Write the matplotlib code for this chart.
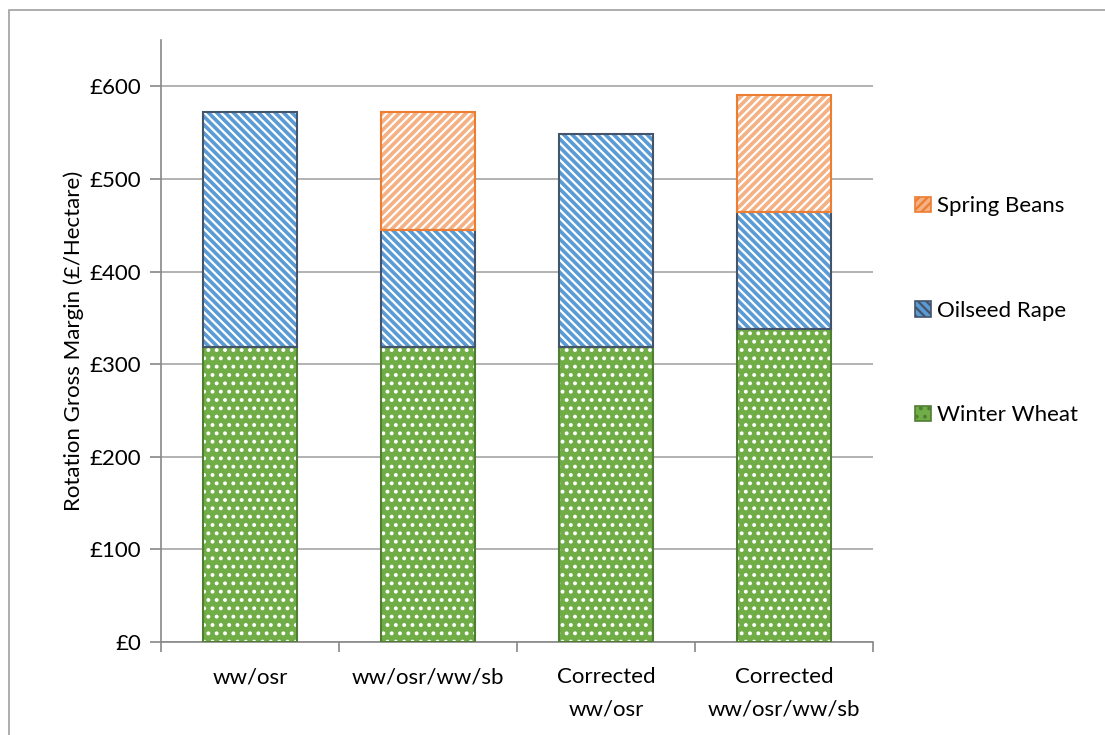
import numpy as np
import matplotlib.pyplot as plt
from matplotlib.patches import Rectangle, Patch
from matplotlib.ticker import FuncFormatter

plt.rcParams['font.family'] = ['Lato', 'DejaVu Sans']

categories = ['ww/osr', 'ww/osr/ww/sb', 'Corrected\nww/osr', 'Corrected\nww/osr/ww/sb']
winter_wheat = [319, 319, 319, 338]
oilseed_rape = [253, 126, 229, 126]
spring_beans = [0, 127, 0, 127]

# (face, hatch colour, hatch, outline)
styles = {
    'Winter Wheat': ('#70AD47', 'white', '..', '#507E32'),
    'Oilseed Rape': ('#5B9BD5', 'white', '\\\\\\\\', '#44546A'),
    'Spring Beans': ('#F4B183', 'white', '////', '#ED7D31'),
}

plt.rcParams['hatch.linewidth'] = 1.6
FS = 16

fig = plt.figure(figsize=(11.05, 7.35), dpi=100)
ax = fig.add_axes([0.1457, 0.1265, 0.6443, 0.8191])

x = np.arange(len(categories))
width = 0.53
bottom = np.zeros(len(categories))
series = [('Winter Wheat', winter_wheat), ('Oilseed Rape', oilseed_rape),
          ('Spring Beans', spring_beans)]
handles = []
for name, vals in series:
    vals = np.array(vals, dtype=float)
    face, hcol, hatch, edge = styles[name]
    mask = vals > 0
    # hatched fill first (hatch takes the edge colour), then the outline on top
    ax.bar(x[mask], vals[mask], width, bottom=bottom[mask], color=face,
           edgecolor=hcol, hatch=hatch, linewidth=0, zorder=2)
    ax.bar(x[mask], vals[mask], width, bottom=bottom[mask], fill=False,
           edgecolor=edge, linewidth=1.5, zorder=3)
    bottom += vals
    handles.append(Patch(facecolor=face, edgecolor=edge, hatch=hatch,
                         linewidth=1.2, label=name))

ax.set_xlim(-0.5, len(categories) - 0.5)
ax.set_ylim(0, 650)
ax.set_yticks(np.arange(0, 601, 100))
ax.yaxis.set_major_formatter(FuncFormatter(lambda v, p: f'£{v:.0f}'))
ax.yaxis.grid(True, color='#A6A6A6', linewidth=1.2, zorder=0)
ax.set_axisbelow(True)

ax.set_xticks(x)
ax.set_xticklabels(categories, fontsize=FS, linespacing=1.75)
ax.set_xticks(np.arange(-0.5, len(categories), 1), minor=True)
ax.tick_params(axis='x', which='major', length=0, pad=18)
ax.tick_params(axis='x', which='minor', length=7, color='#888888', width=1.2)
ax.tick_params(axis='y', length=8, color='#888888', width=1.2, labelsize=FS, pad=6)

for side in ['top', 'right']:
    ax.spines[side].set_visible(False)
for side in ['left', 'bottom']:
    ax.spines[side].set_color('#888888')
    ax.spines[side].set_linewidth(1.2)

ax.set_ylabel('Rotation Gross Margin (£/Hectare)', fontsize=FS, labelpad=4)

fig.legend(handles=handles[::-1], loc='center left',
           bbox_to_anchor=(0.81, 0.577), frameon=False, fontsize=FS,
           handlelength=0.7, handleheight=0.7, handletextpad=0.3,
           labelspacing=3.8)

# chart frame
fig.patches.append(Rectangle((9 / 1105, -0.2), 1.2, 1.2 - 10 / 735,
                             transform=fig.transFigure, fill=False,
                             edgecolor='#A0A0A0', linewidth=1.2))

fig.savefig('out.png', dpi=100)
